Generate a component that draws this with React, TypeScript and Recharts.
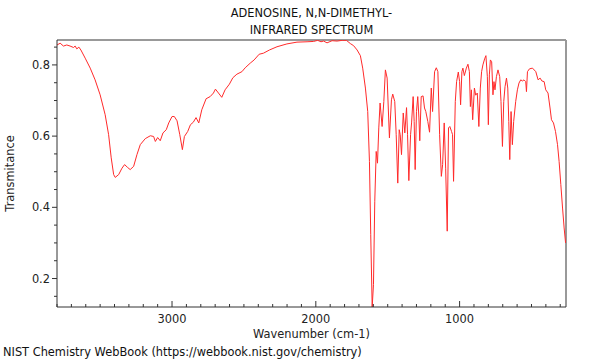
import { LineChart, Line, XAxis, YAxis, ReferenceLine, Label } from 'recharts';

// spectrum (cm-1 -> transmittance)
const wavenumbers = [
  3800, 3778, 3755, 3732, 3709, 3685, 3674, 3662, 3648, 3634, 3604, 3569, 3535, 3500, 3465, 3441,
  3423, 3406, 3395, 3371, 3348, 3330, 3309, 3291, 3267, 3244, 3221, 3186, 3151, 3128, 3116, 3100,
  3082, 3063, 3040, 3023, 3000, 2984, 2965, 2946, 2928, 2914, 2891, 2872, 2852, 2833, 2814, 2793,
  2763, 2735, 2712, 2698, 2677, 2654, 2631, 2601, 2577, 2549, 2514, 2491, 2456, 2429, 2394, 2364,
  2322, 2270, 2201, 2131, 2061, 2015, 1987, 1964, 1946, 1922, 1887, 1852, 1817, 1787, 1760, 1737,
  1713, 1690, 1674, 1655, 1639, 1627, 1618, 1608, 1599, 1590, 1580, 1571, 1562, 1553, 1539, 1527,
  1516, 1504, 1488, 1474, 1465, 1451, 1441, 1430, 1420, 1413, 1404, 1392, 1381, 1369, 1362, 1353,
  1341, 1334, 1323, 1316, 1309, 1300, 1291, 1283, 1277, 1267, 1254, 1244, 1235, 1221, 1209, 1197,
  1188, 1174, 1162, 1151, 1139, 1127, 1118, 1107, 1097, 1086, 1077, 1068, 1056, 1049, 1042, 1030,
  1021, 1009, 1000, 993, 984, 977, 967, 953, 942, 932, 925, 918, 909, 897, 888, 877,
  866, 856, 847, 838, 826, 817, 807, 800, 793, 786, 777, 768, 761, 754, 744, 733,
  721, 712, 702, 693, 684, 674, 665, 658, 651, 642, 633, 624, 610, 598, 587, 575,
  563, 552, 540, 535, 528, 514, 493, 470, 454, 440, 428, 412, 401, 385, 371, 361,
  347, 333, 319, 308, 296, 284, 273, 263,
];

const transmittance = [
  0.856, 0.861, 0.853, 0.856, 0.853, 0.849, 0.853, 0.845, 0.85, 0.842, 0.819, 0.791, 0.758, 0.716, 0.66, 0.604,
  0.539, 0.492, 0.484, 0.492, 0.51, 0.52, 0.512, 0.506, 0.515, 0.548, 0.576, 0.593, 0.601, 0.599, 0.585, 0.596,
  0.587, 0.609, 0.618, 0.637, 0.655, 0.655, 0.643, 0.604, 0.562, 0.599, 0.613, 0.632, 0.639, 0.652, 0.637, 0.674,
  0.705, 0.711, 0.721, 0.732, 0.721, 0.709, 0.73, 0.746, 0.764, 0.774, 0.781, 0.792, 0.805, 0.814, 0.83, 0.833,
  0.842, 0.851, 0.859, 0.864, 0.865, 0.866, 0.869, 0.865, 0.867, 0.862, 0.868, 0.867, 0.869, 0.869, 0.86, 0.854,
  0.842, 0.826, 0.791, 0.735, 0.669, 0.529, 0.323, 0.12, 0.183, 0.417, 0.557, 0.524, 0.623, 0.693, 0.627, 0.697,
  0.786, 0.763, 0.595, 0.702, 0.718, 0.697, 0.604, 0.468, 0.618, 0.604, 0.548, 0.665, 0.609, 0.68, 0.604, 0.475,
  0.604, 0.637, 0.711, 0.641, 0.506, 0.669, 0.711, 0.651, 0.587, 0.711, 0.713, 0.679, 0.669, 0.641, 0.611, 0.735,
  0.669, 0.781, 0.792, 0.781, 0.604, 0.487, 0.52, 0.637, 0.51, 0.333, 0.623, 0.627, 0.613, 0.604, 0.473, 0.697,
  0.753, 0.78, 0.753, 0.688, 0.781, 0.791, 0.77, 0.791, 0.802, 0.781, 0.683, 0.73, 0.646, 0.735, 0.715, 0.721,
  0.627, 0.735, 0.781, 0.8, 0.817, 0.826, 0.767, 0.632, 0.772, 0.814, 0.809, 0.716, 0.753, 0.73, 0.767, 0.786,
  0.767, 0.697, 0.571, 0.697, 0.739, 0.763, 0.735, 0.641, 0.534, 0.669, 0.576, 0.641, 0.697, 0.73, 0.749, 0.758,
  0.755, 0.758, 0.753, 0.725, 0.781, 0.789, 0.791, 0.781, 0.758, 0.763, 0.755, 0.753, 0.73, 0.721, 0.679, 0.646,
  0.637, 0.613, 0.576, 0.529, 0.464, 0.398, 0.342, 0.3,
];

const xMajorTicks = [1000, 2000, 3000];
const xMinorTicks = [
  300, 400, 500, 600, 700, 800, 900, 1100, 1200, 1300, 1400, 1500, 1600, 1700, 1800, 1900,
  2100, 2200, 2300, 2400, 2500, 2600, 2700, 2800, 2900, 3100, 3200, 3300, 3400, 3500, 3600, 3700, 3800,
];
const yMajorTicks = [0.2, 0.4, 0.6, 0.8];
const yMinorTicks = [0.15, 0.25, 0.3, 0.35, 0.45, 0.5, 0.55, 0.65, 0.7, 0.75, 0.85];

const xDomain = [260, 3800];
const yDomain = [0.12, 0.87];

const title = ['ADENOSINE, N,N-DIMETHYL-', 'INFRARED SPECTRUM'];
const footer = 'NIST Chemistry WebBook (https://webbook.nist.gov/chemistry)';

const font = '"DejaVu Sans", sans-serif';
const fs = 11.4;
const axisColor = '#333';

const data = wavenumbers.map((wn, i) => ({ wn, t: transmittance[i] }));

function XTick(props: any) {
  const { x, y, payload } = props;
  const major = xMajorTicks.includes(payload.value);
  return (
    <g>
      <line x1={x} x2={x} y1={y} y2={y - (major ? 6 : 3)} stroke={axisColor} />
      {major && (
        <text x={x} y={y + 16} textAnchor="middle" fontSize={fs} fontFamily={font} fill="#222">
          {payload.value}
        </text>
      )}
    </g>
  );
}

function YTick(props: any) {
  const { x, y, payload } = props;
  const major = yMajorTicks.some((v) => Math.abs(v - payload.value) < 1e-6);
  return (
    <g>
      <line x1={x} x2={x - (major ? 5 : 3)} y1={y} y2={y} stroke={axisColor} />
      {major && (
        <text x={x - 7} y={y + 4} textAnchor="end" fontSize={fs} fontFamily={font} fill="#222">
          {payload.value.toFixed(1)}
        </text>
      )}
    </g>
  );
}

export default function App() {
  return (
    <div style={{ position: 'absolute', left: 0, top: 0, width: 600, height: 360, background: '#fff', fontFamily: font }}>
      <div
        style={{
          position: 'absolute',
          left: 57,
          width: 509,
          top: 5,
          textAlign: 'center',
          fontSize: fs,
          lineHeight: '17px',
          color: '#111',
        }}
      >
        {title.map((line) => (
          <div key={line}>{line}</div>
        ))}
      </div>
      <LineChart width={600} height={360} data={data} margin={{ top: 40, right: 34, bottom: 0, left: 0 }}>
        <XAxis
          dataKey="wn"
          type="number"
          domain={xDomain}
          reversed
          allowDataOverflow
          ticks={[...xMinorTicks, ...xMajorTicks].sort((a, b) => a - b)}
          interval={0}
          tickSize={0}
          tickMargin={0}
          tickLine={false}
          axisLine={{ stroke: axisColor }}
          height={53}
          tick={<XTick />}
        >
          <Label
            content={(p: any) => {
              const vb = p.viewBox;
              return (
                <text x={vb.x + vb.width / 2} y={vb.y + 31} textAnchor="middle" fontSize={fs} fontFamily={font} fill="#222">
                  Wavenumber (cm-1)
                </text>
              );
            }}
          />
        </XAxis>
        <YAxis
          type="number"
          domain={yDomain}
          allowDataOverflow
          ticks={[...yMinorTicks, ...yMajorTicks].sort((a, b) => a - b)}
          interval={0}
          tickSize={0}
          tickMargin={0}
          tickLine={false}
          axisLine={{ stroke: axisColor }}
          width={57}
          tick={<YTick />}
        >
          <Label
            content={(p: any) => {
              const vb = p.viewBox;
              const cx = 14;
              const cy = vb.y + vb.height / 2;
              return (
                <text
                  x={cx}
                  y={cy}
                  transform={`rotate(-90 ${cx} ${cy})`}
                  textAnchor="middle"
                  fontSize={fs}
                  fontFamily={font}
                  fill="#222"
                >
                  Transmitance
                </text>
              );
            }}
          />
        </YAxis>
        <ReferenceLine y={yDomain[1]} stroke="#999" strokeWidth={2} />
        <ReferenceLine x={xDomain[0]} stroke="#999" strokeWidth={2} />
        <Line
          type="linear"
          dataKey="t"
          stroke="#ff2a2a"
          strokeWidth={1}
          dot={false}
          isAnimationActive={false}
        />
      </LineChart>
      <div style={{ position: 'absolute', left: 3, top: 345, fontSize: fs, color: '#111', whiteSpace: 'nowrap' }}>
        {footer}
      </div>
    </div>
  );
}
